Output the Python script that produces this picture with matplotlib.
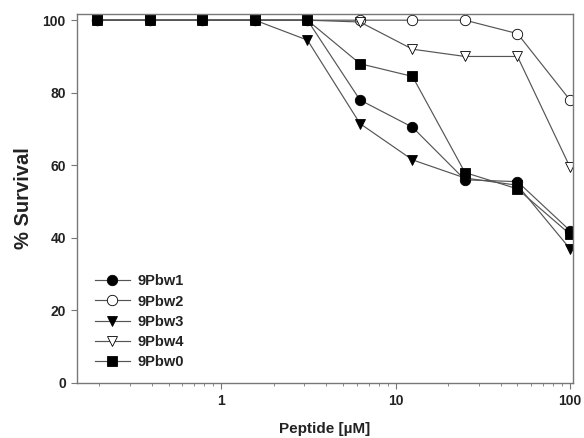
import numpy as np
import matplotlib
matplotlib.use("Agg")
import matplotlib.pyplot as plt
from matplotlib.ticker import LogLocator, FixedLocator, NullFormatter

# ── Data ──────────────────────────────────────────────────────────────────────

conc = [0.195, 0.39, 0.78, 1.5625, 3.125, 6.25, 12.5, 25, 50, 100]

pbw1 = [100, 100, 100, 100, 100, 78, 70.5, 56, 55.5, 42]
pbw2 = [100, 100, 100, 100, 100, 100, 100, 100, 96.3, 78]
pbw3 = [100, 100, 100, 100, 94.5, 71.5, 61.5, 56.5, 54.5, 37]
pbw4 = [100, 100, 100, 100, 100, 99.5, 92, 90, 90, 59.5]
pbw0 = [100, 100, 100, 100, 100, 88, 84.5, 58, 53.5, 41]

labels = ["9Pbw1", "9Pbw2", "9Pbw3", "9Pbw4", "9Pbw0"]

# ── Plot ──────────────────────────────────────────────────────────────────────

plt.rcParams['font.family'] = ['Liberation Sans', 'DejaVu Sans']

fig = plt.figure(figsize=(5.84, 4.38), dpi=100)
ax = fig.add_axes([0.1318, 0.1256, 0.8493, 0.8424])

series = [
    (pbw1, 'o', 'black'),
    (pbw2, 'o', 'white'),
    (pbw3, 'v', 'black'),
    (pbw4, 'v', 'white'),
    (pbw0, 's', 'black'),
]

for (vals, mk, fc), lab in zip(series, labels):
    ax.plot(conc, vals, color='#555555', linewidth=0.85,
            marker=mk, markersize=7.5 if mk != 's' else 6.8,
            markerfacecolor=fc, markeredgecolor='black',
            markeredgewidth=0.6, label=lab)

ax.set_xscale('log')
ax.set_xlim(0.149, 104)
ax.set_ylim(0, 101.7)

ax.xaxis.set_major_locator(FixedLocator([1, 10, 100]))
ax.set_xticklabels(['1', '10', '100'])
ax.xaxis.set_minor_locator(LogLocator(base=10, subs=np.arange(2, 10)))
ax.xaxis.set_minor_formatter(NullFormatter())
ax.set_yticks([0, 20, 40, 60, 80, 100])

for sp in ax.spines.values():
    sp.set_color('#777777')
    sp.set_linewidth(1.0)

ax.tick_params(which='both', direction='out', color='#777777',
               labelcolor='#222222', labelsize=10)
ax.tick_params(which='major', length=4, pad=4)
ax.tick_params(which='minor', length=2.5)
for t in ax.get_xticklabels() + ax.get_yticklabels():
    t.set_fontweight('bold')

ax.set_xlabel('Peptide [µM]', fontsize=11, fontweight='bold', color='#222222',
              labelpad=10)
ax.set_ylabel('% Survival', fontsize=14.5, fontweight='bold', color='#222222',
              labelpad=7)

leg = ax.legend(loc='lower left', bbox_to_anchor=(0.036, 0.038),
                frameon=False, fontsize=10.5, handlelength=2.4,
                labelspacing=0.42, borderaxespad=0, borderpad=0,
                handletextpad=0.55)
for t in leg.get_texts():
    t.set_fontweight('bold')
    t.set_color('#222222')

fig.savefig('out.png', dpi=100)
